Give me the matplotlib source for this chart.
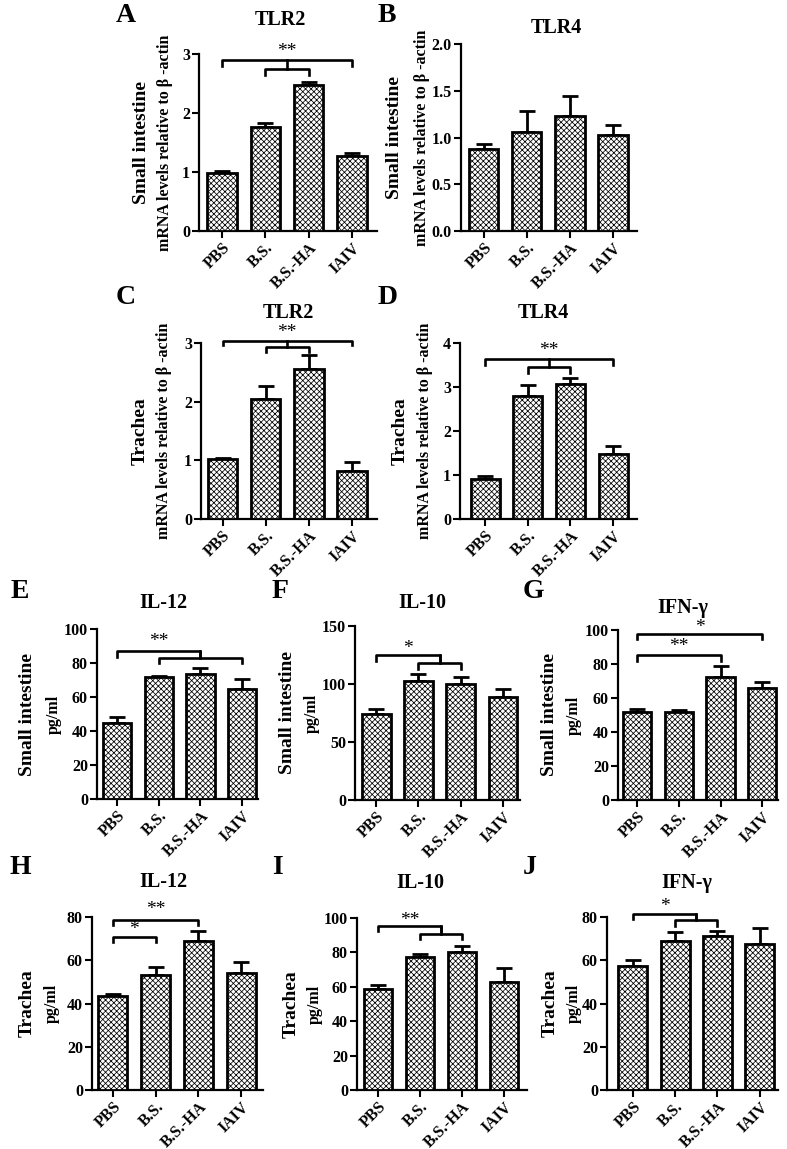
import numpy as np
import matplotlib
matplotlib.use('Agg')
import matplotlib.pyplot as plt

plt.rcParams['font.family'] = ['Liberation Serif', 'DejaVu Serif']
plt.rcParams['font.weight'] = 'bold'
plt.rcParams['hatch.linewidth'] = 0.55

W, H = 787, 1149

grupos = ['PBS', 'B.S.', 'B.S.-HA', 'IAIV']

# medias e erros (so para cima) de cada painel
tlr2_int = [0.99, 1.77, 2.47, 1.27]
tlr2_int_err = [0.03, 0.06, 0.05, 0.06]
tlr4_int = [0.88, 1.06, 1.23, 1.03]
tlr4_int_err = [0.05, 0.22, 0.21, 0.10]
tlr2_tra = [1.02, 2.05, 2.55, 0.82]
tlr2_tra_err = [0.02, 0.21, 0.24, 0.16]
tlr4_tra = [0.91, 2.79, 3.06, 1.48]
tlr4_tra_err = [0.06, 0.25, 0.15, 0.18]
il12_int = [44.7, 71.7, 73.5, 64.5]
il12_int_err = [3.5, 0.8, 3.7, 6.1]
il10_int = [74.0, 102.5, 100.0, 88.5]
il10_int_err = [4.5, 6.0, 6.0, 6.8]
ifng_int = [51.6, 52.0, 72.5, 66.0]
ifng_int_err = [1.9, 1.0, 6.5, 3.6]
il12_tra = [43.4, 53.4, 68.9, 54.1]
il12_tra_err = [1.2, 3.5, 4.8, 5.0]
il10_tra = [58.5, 77.3, 80.2, 62.7]
il10_tra_err = [2.5, 1.9, 3.7, 8.5]
ifng_tra = [57.5, 69.1, 71.4, 67.7]
ifng_tra_err = [2.8, 4.0, 2.0, 7.3]

mrna = 'mRNA levels relative to β -actin'

# cada painel: letra, titulo, dados, erro, ylim, yticks, formato,
# caixa em pixels (esq, dir, topo, base), xlim, rotulos y (texto, x em px)
paineis = [
    dict(letra='A', titulo='TLR2', y=tlr2_int, e=tlr2_int_err, ylim=3, yt=[0, 1, 2, 3], fmt='{:g}',
         caixa=(199, 377, 54, 231), xlim=(-0.53, 3.58), let=(126, 15), tit=(280, 20),
         rot=[('Small intestine', 142, 14), (mrna, 165, 11.5)],
         colch=[(0, 3, 2.90, 0.11), (1, 2, 2.75, 0.10)], haste=[(1.5, 2.75, 2.90)],
         est=[(1.5, 3.04, '**')]),
    dict(letra='B', titulo='TLR4', y=tlr4_int, e=tlr4_int_err, ylim=2, yt=[0, 0.5, 1, 1.5, 2], fmt='{:.1f}',
         caixa=(461, 637, 44, 231), xlim=(-0.53, 3.56), let=(387, 15), tit=(556, 28),
         rot=[('Small intestine', 395, 14), (mrna, 422, 11.5)],
         colch=[], haste=[], est=[]),
    dict(letra='C', titulo='TLR2', y=tlr2_tra, e=tlr2_tra_err, ylim=3, yt=[0, 1, 2, 3], fmt='{:g}',
         caixa=(201, 377, 343, 519), xlim=(-0.5, 3.58), let=(126, 297), tit=(288, 313),
         rot=[('Trachea', 140, 14), (mrna, 164, 11.5)],
         colch=[(0, 3, 3.04, 0.08), (1, 2, 2.93, 0.08)], haste=[(1.5, 2.93, 3.04)],
         est=[(1.5, 3.18, '**')]),
    dict(letra='D', titulo='TLR4', y=tlr4_tra, e=tlr4_tra_err, ylim=4, yt=[0, 1, 2, 3, 4], fmt='{:g}',
         caixa=(460, 637, 343, 519), xlim=(-0.59, 3.56), let=(388, 297), tit=(543, 313),
         rot=[('Trachea', 400, 14), (mrna, 425, 11.5)],
         colch=[(0, 3, 3.63, 0.14), (1, 2, 3.45, 0.13)], haste=[(1.5, 3.45, 3.63)],
         est=[(1.5, 3.82, '**')]),
    dict(letra='E', titulo='IL-12', y=il12_int, e=il12_int_err, ylim=100, yt=[0, 20, 40, 60, 80, 100], fmt='{:g}',
         caixa=(97, 258, 629, 799), xlim=(-0.48, 3.38), let=(20, 592), tit=(163, 603),
         rot=[('Small intestine', 28, 14), ('pg/ml', 54, 11.5)],
         colch=[(0, 2, 87.3, 4.0), (1, 3, 83.1, 3.3)], haste=[(2, 83.1, 87.3)],
         est=[(1, 92.7, '**')]),
    dict(letra='F', titulo='IL-10', y=il10_int, e=il10_int_err, ylim=150, yt=[0, 50, 100, 150], fmt='{:g}',
         caixa=(355, 520, 626, 800), xlim=(-0.5, 3.4), let=(280, 592), tit=(422, 603),
         rot=[('Small intestine', 288, 14), ('pg/ml', 312, 11.5)],
         colch=[(0, 1.5, 124.9, 5), (1, 2, 118.3, 5)], haste=[(1.5, 118.3, 124.9)],
         est=[(0.75, 130.6, '*')]),
    dict(letra='G', titulo='IFN-γ', y=ifng_int, e=ifng_int_err, ylim=100, yt=[0, 20, 40, 60, 80, 100], fmt='{:g}',
         caixa=(618, 778, 630, 800), xlim=(-0.46, 3.38), let=(533, 592), tit=(683, 608),
         rot=[('Small intestine', 550, 14), ('pg/ml', 574, 11.5)],
         colch=[(0, 3, 97.5, 2.8), (0, 2, 85.1, 3.1)], haste=[],
         est=[(1.5, 101.6, '*'), (1, 90.2, '**')]),
    dict(letra='H', titulo='IL-12', y=il12_tra, e=il12_tra_err, ylim=80, yt=[0, 20, 40, 60, 80], fmt='{:g}',
         caixa=(92, 263, 917, 1090), xlim=(-0.49, 3.51), let=(20, 867), tit=(163, 882),
         rot=[('Trachea', 27, 14), ('pg/ml', 52, 11.5)],
         colch=[(0, 2, 78.8, 2.6), (0, 1, 70.8, 2.3)], haste=[],
         est=[(1, 83.5, '**'), (0.5, 74.3, '*')]),
    dict(letra='I', titulo='IL-10', y=il10_tra, e=il10_tra_err, ylim=100, yt=[0, 20, 40, 60, 80, 100], fmt='{:g}',
         caixa=(357, 527, 918, 1090), xlim=(-0.5, 3.55), let=(277, 867), tit=(420, 883),
         rot=[('Trachea', 291, 14), ('pg/ml', 315, 11.5)],
         colch=[(0, 1.5, 95.5, 3.2), (1, 2, 90.9, 3.2)], haste=[(1.5, 90.9, 95.5)],
         est=[(0.75, 98.8, '**')]),
    dict(letra='J', titulo='IFN-γ', y=ifng_tra, e=ifng_tra_err, ylim=80, yt=[0, 20, 40, 60, 80], fmt='{:g}',
         caixa=(607, 778, 917, 1090), xlim=(-0.61, 3.43), let=(530, 867), tit=(687, 883),
         rot=[('Trachea', 550, 14), ('pg/ml', 574, 11.5)],
         colch=[(0, 1.5, 81.6, 2.5), (1, 2, 78.4, 2.6)], haste=[(1.5, 78.4, 81.6)],
         est=[(0.75, 85.0, '*')]),
]

fig = plt.figure(figsize=(W / 100, H / 100), dpi=100)
x = np.arange(len(grupos))

for p in paineis:
    l, r, t, b = p['caixa']
    ax = fig.add_axes([l / W, 1 - b / H, (r - l) / W, (b - t) / H])

    ax.errorbar(x, p['y'], yerr=[np.zeros(4), p['e']], fmt='none', ecolor='black',
                elinewidth=2, capsize=6, capthick=2, zorder=2)
    ax.bar(x, p['y'], width=0.68, color='white', edgecolor='black', hatch='xxxxxx',
           linewidth=2, zorder=3)

    ax.set_xlim(*p['xlim'])
    ax.set_ylim(0, p['ylim'])
    ax.set_yticks(p['yt'])
    ax.set_yticklabels([p['fmt'].format(v) for v in p['yt']], fontsize=11.5)
    ax.set_xticks(x)
    ax.set_xticklabels(grupos, rotation=45, ha='right', rotation_mode='anchor', fontsize=11.5)
    for s in ['top', 'right']:
        ax.spines[s].set_visible(False)
    for s in ['left', 'bottom']:
        ax.spines[s].set_linewidth(1.6)
    ax.tick_params(width=1.5, length=5, pad=1.5)

    # colchetes de significancia
    for x1, x2, yy, d in p['colch']:
        ax.plot([x1, x1, x2, x2], [yy - d, yy, yy, yy - d], color='black', lw=1.9, clip_on=False)
    for xm, y0, y1 in p['haste']:
        ax.plot([xm, xm], [y0, y1], color='black', lw=1.9, clip_on=False)
    for xs, ys, txt in p['est']:
        ax.text(xs, ys, txt, ha='center', va='center', fontsize=14, fontweight='normal', clip_on=False)

    fig.text(p['let'][0] / W, 1 - p['let'][1] / H, p['letra'], fontsize=20, ha='center', va='center')
    fig.text(p['tit'][0] / W, 1 - p['tit'][1] / H, p['titulo'], fontsize=14.5, ha='center', va='center')
    yc = 1 - (t + b) / 2 / H
    for txt, xp, fs in p['rot']:
        fig.text(xp / W, yc, txt, rotation=90, ha='center', va='center', fontsize=fs)

plt.savefig('out.png', dpi=100)
